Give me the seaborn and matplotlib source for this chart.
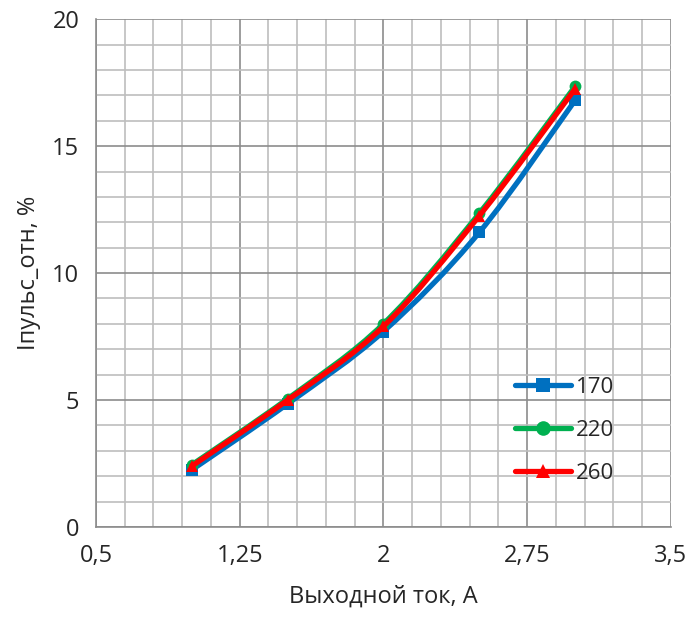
import numpy as np
import pandas as pd
import matplotlib
matplotlib.use("Agg")
import matplotlib.pyplot as plt
import seaborn as sns
from matplotlib.path import Path
from matplotlib.patches import PathPatch
from matplotlib.lines import Line2D
from matplotlib.ticker import MultipleLocator, FuncFormatter

# data
current = [1.0, 1.5, 2.0, 2.5, 3.0]
pulse_170 = [2.25, 4.85, 7.7, 11.6, 16.8]
pulse_220 = [2.45, 5.05, 8.0, 12.35, 17.35]
pulse_260 = [2.4, 5.0, 7.9, 12.25, 17.25]
series_names = ["170", "220", "260"]

colors = {"170": "#0070C0", "220": "#00B050", "260": "#FF0000"}
markers = {"170": "s", "220": "o", "260": "^"}

df = pd.concat([
    pd.DataFrame({"x": current, "y": pulse_170, "s": "170"}),
    pd.DataFrame({"x": current, "y": pulse_220, "s": "220"}),
    pd.DataFrame({"x": current, "y": pulse_260, "s": "260"}),
])

sns.set_theme(style="white")
plt.rcParams["font.family"] = ["Open Sans", "DejaVu Sans"]

fig = plt.figure(figsize=(6.88, 6.19), dpi=100)
ax = fig.add_axes([0.1395, 0.1486, 0.8355, 0.8204])


def smooth_path(xs, ys):
    # Excel-like smoothed line: cubic bezier through the points
    pts = np.column_stack([xs, ys])
    n = len(pts)
    verts = [pts[0]]
    codes = [Path.MOVETO]
    for i in range(n - 1):
        p0 = pts[i - 1] if i > 0 else pts[i]
        p1 = pts[i]
        p2 = pts[i + 1]
        p3 = pts[i + 2] if i + 2 < n else pts[i + 1]
        c1 = p1 + (p2 - p0) / 6.0
        c2 = p2 - (p3 - p1) / 6.0
        verts += [c1, c2, p2]
        codes += [Path.CURVE4] * 3
    return Path(verts, codes)


for z, name in enumerate(series_names):
    sub = df[df["s"] == name]
    patch = PathPatch(smooth_path(sub["x"].values, sub["y"].values),
                      facecolor="none", edgecolor=colors[name], lw=3.8,
                      capstyle="round", joinstyle="round", zorder=3 + z)
    ax.add_patch(patch)
    sns.lineplot(data=sub, x="x", y="y", ax=ax, color=colors[name],
                 marker=markers[name], markersize=8.5, markeredgewidth=0,
                 linestyle="none", label=name, zorder=3 + z)

ax.set_xlim(0.5, 3.5)
ax.set_ylim(0, 20)
ax.xaxis.set_major_locator(MultipleLocator(0.75, offset=0.5))
ax.xaxis.set_minor_locator(MultipleLocator(0.15, offset=0.5))
ax.yaxis.set_major_locator(MultipleLocator(5))
ax.yaxis.set_minor_locator(MultipleLocator(1))

fmt = FuncFormatter(lambda v, p: ("%g" % round(v, 4)).replace(".", ","))
ax.xaxis.set_major_formatter(fmt)
ax.yaxis.set_major_formatter(fmt)

ax.grid(which="major", color="#8C8C8C", lw=1.2)
ax.grid(which="minor", color="#BEBEBE", lw=1.2)
ax.set_axisbelow(True)

for side in ["top", "right"]:
    ax.spines[side].set_visible(False)
for side in ["left", "bottom"]:
    ax.spines[side].set_color("#8C8C8C")
    ax.spines[side].set_linewidth(1.2)

ax.tick_params(axis="both", which="major", direction="out", length=7,
               width=1.2, color="#8C8C8C", labelsize=17, pad=5)
ax.tick_params(axis="both", which="minor", length=0)

ax.set_xlabel("Выходной ток, А", fontsize=17, labelpad=12)
ax.set_ylabel("Iпульс_отн, %", fontsize=17, labelpad=8)

handles = [Line2D([], [], color=colors[n], lw=3.8, marker=markers[n],
                  markersize=10.5, markeredgewidth=0) for n in series_names]
ax.legend(handles, series_names, loc="center left",
          bbox_to_anchor=(0.729, 0.19), frameon=False, fontsize=16,
          handlelength=2.5, labelspacing=1.0, handletextpad=0.25,
          borderpad=0, borderaxespad=0)

fig.savefig("out.png", dpi=100)
